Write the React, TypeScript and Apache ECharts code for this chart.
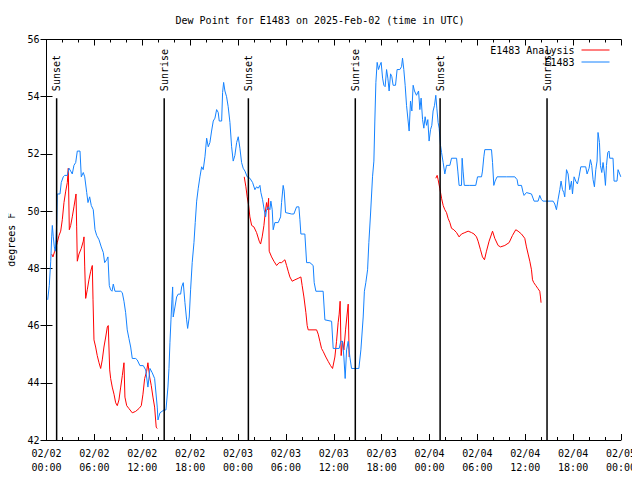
import React, { useEffect, useRef } from "react";
import * as echarts from "echarts";

// hours since 2025-02-02 00:00 UTC, dew point (°F)
const observed: [number, number][] = [
  [0.15,46.9],[0.35,47.4],[0.53,48.25],[0.65,49.1],[0.73,49.5],[0.85,49.1],[0.98,48.75],[1.10,48.6],[1.19,49.0],[1.28,49.6],[1.35,50.6],[1.69,50.6],[1.85,51.0],[2.10,51.2],[2.28,51.25],[2.61,51.25],[2.82,51.5],[3.03,51.4],[3.23,51.3],[3.44,51.6],[3.66,51.7],[3.86,52.1],[4.20,52.1],[4.36,51.2],[4.61,51.35],[4.79,51.2],[5.04,50.65],[5.20,50.3],[5.41,50.5],[5.61,50.2],[5.86,50.05],[6.08,49.35],[6.29,49.15],[6.58,49.0],[6.86,48.75],[7.12,48.55],[7.29,48.2],[7.54,48.3],[7.70,48.4],[7.87,47.4],[8.04,47.25],[8.21,47.2],[8.37,47.45],[8.58,47.2],[9.30,47.2],[9.50,47.15],[9.71,46.85],[9.92,46.45],[10.12,45.85],[10.33,45.55],[10.55,45.25],[10.75,44.85],[11.17,44.85],[11.37,44.8],[11.71,44.6],[12.13,44.6],[12.43,44.45],[12.71,43.85],[12.97,44.5],[13.25,44.35],[13.55,44.15],[13.88,43.15],[13.97,42.7],[14.22,42.95],[14.72,43.05],[14.97,43.05],[15.22,43.85],[15.35,44.5],[15.47,45.4],[15.60,46.2],[15.72,46.9],[15.81,47.35],[15.88,46.3],[16.10,46.65],[16.31,47.0],[16.51,47.1],[16.81,47.1],[16.94,47.35],[17.14,47.5],[17.35,46.8],[17.56,46.2],[17.69,45.9],[17.89,46.3],[18.06,47.25],[18.26,48.2],[18.48,48.9],[18.64,49.6],[18.82,50.35],[19.02,50.8],[19.23,51.2],[19.44,51.55],[19.64,51.45],[19.86,51.9],[20.07,52.55],[20.27,52.25],[20.48,52.4],[20.69,52.8],[20.90,53.15],[21.11,53.25],[21.32,53.55],[21.52,53.45],[21.65,53.15],[21.95,53.15],[22.07,54.15],[22.20,54.5],[22.36,54.2],[22.57,54.0],[22.77,53.65],[22.99,53.1],[23.20,52.25],[23.40,51.75],[23.61,51.95],[23.83,52.4],[24.03,52.6],[24.24,52.2],[24.45,51.7],[24.65,51.5],[24.87,51.4],[25.15,51.2],[25.49,51.15],[25.83,51.0],[26.12,50.75],[26.33,50.85],[26.53,50.8],[26.75,50.9],[26.87,50.65],[27.08,50.4],[27.28,50.05],[27.46,49.8],[27.58,50.05],[27.79,50.15],[28.00,50.05],[28.12,50.35],[28.29,50.05],[28.41,49.35],[28.62,49.6],[29.04,49.6],[29.34,49.8],[29.46,50.3],[29.66,50.9],[29.79,50.7],[29.96,49.95],[30.72,49.9],[31.00,49.9],[31.34,50.15],[31.63,50.15],[31.76,49.7],[31.88,49.2],[32.38,49.2],[32.60,48.2],[33.01,48.2],[33.42,48.1],[33.55,47.5],[33.76,47.2],[34.67,47.2],[34.89,46.2],[35.73,46.15],[35.93,45.2],[36.68,45.2],[36.89,45.45],[37.10,45.45],[37.27,44.9],[37.43,44.15],[37.61,45.15],[37.81,45.45],[38.02,44.9],[38.23,44.5],[39.15,44.5],[39.40,45.15],[39.69,46.3],[39.84,47.2],[40.02,47.5],[40.24,47.95],[40.40,48.9],[40.61,49.9],[40.86,51.2],[41.03,51.75],[41.15,53.15],[41.28,54.5],[41.44,55.2],[41.61,54.95],[41.78,55.1],[41.94,55.2],[42.12,54.65],[42.28,54.4],[42.44,54.35],[42.62,54.95],[42.78,54.65],[42.94,54.2],[43.12,54.8],[43.28,54.7],[43.44,54.4],[43.74,54.4],[43.94,54.95],[44.28,54.95],[44.50,55.05],[44.62,55.35],[44.78,54.95],[44.95,54.4],[45.12,53.7],[45.32,53.15],[45.45,52.8],[45.62,53.85],[45.79,53.5],[45.95,54.4],[46.12,54.2],[46.37,54.05],[46.63,54.2],[46.79,53.55],[46.95,53.95],[47.13,53.2],[47.29,52.9],[47.45,53.3],[47.63,53.0],[47.79,53.2],[47.95,52.45],[48.13,52.85],[48.29,53.0],[48.45,53.5],[48.63,53.7],[48.79,54.05],[48.92,53.6],[49.08,53.1],[49.21,52.9],[49.38,52.3],[49.51,52.05],[49.71,51.7],[49.92,51.3],[50.13,51.6],[50.55,51.6],[50.76,51.85],[51.39,51.85],[51.55,51.4],[51.71,50.9],[52.01,50.9],[52.09,51.85],[52.21,51.4],[52.36,50.9],[53.05,50.9],[53.80,50.9],[54.02,51.2],[54.52,51.2],[54.64,51.4],[54.81,51.9],[54.93,52.15],[55.77,52.15],[55.90,51.7],[56.06,50.9],[56.22,51.05],[56.47,51.2],[57.65,51.2],[58.69,51.2],[58.98,51.1],[59.10,50.9],[59.53,50.9],[59.73,50.65],[59.85,50.55],[60.15,50.65],[60.78,50.6],[61.11,50.35],[61.61,50.35],[61.82,50.55],[62.03,50.4],[62.23,50.35],[63.49,50.35],[63.70,50.25],[63.91,50.05],[64.11,50.4],[64.33,50.75],[64.49,51.05],[64.67,50.75],[64.83,50.65],[64.95,50.5],[65.17,51.45],[65.37,51.3],[65.58,50.75],[65.79,51.05],[65.92,50.6],[66.12,51.2],[66.33,51.05],[66.54,50.95],[66.74,51.2],[66.96,51.55],[67.58,51.55],[67.75,51.3],[68.00,51.5],[68.17,51.8],[68.33,51.6],[68.50,51.1],[68.67,50.85],[68.84,51.45],[69.00,51.75],[69.12,52.75],[69.30,52.4],[69.42,51.6],[69.59,51.35],[69.75,51.7],[69.93,51.3],[70.05,50.9],[70.18,51.6],[70.34,52.05],[70.50,52.1],[70.59,51.85],[71.00,51.85],[71.13,51.05],[71.50,51.05],[71.63,51.45],[71.84,51.3],[71.97,51.2]
];

const analysisNight1: [number, number][] = [
  [0.65,48.5],[0.81,48.4],[1.03,48.6],[1.19,48.75],[1.35,48.9],[1.57,49.15],[1.78,49.3],[1.98,49.7],[2.19,50.3],[2.41,50.7],[2.61,51.0],[2.73,51.5],[2.86,49.35],[3.03,49.5],[3.23,49.8],[3.44,50.15],[3.70,50.6],[3.78,49.45],[3.86,48.25],[4.07,48.5],[4.36,48.7],[4.61,48.95],[4.70,49.1],[4.79,48.05],[4.91,46.95],[5.11,47.25],[5.32,47.6],[5.54,47.9],[5.74,48.1],[5.83,46.9],[5.95,45.5],[6.16,45.25],[6.36,44.95],[6.58,44.7],[6.79,44.5],[6.99,44.8],[7.20,45.25],[7.42,45.6],[7.62,45.95],[7.74,46.0],[7.92,44.45],[8.04,44.15],[8.24,43.85],[8.46,43.6],[8.67,43.3],[8.87,43.2],[9.08,43.4],[9.30,43.85],[9.50,44.25],[9.71,44.7],[9.83,43.5],[10.05,43.2],[10.33,43.1],[10.75,42.95],[11.17,43.0],[11.59,43.1],[11.88,43.2],[12.09,43.6],[12.30,44.15],[12.55,44.4],[12.71,44.7],[12.93,44.2],[13.13,43.9],[13.34,43.5],[13.55,43.15],[13.75,42.45],[13.88,42.4]
];

const analysisNight2: [number, number][] = [
  [24.78,51.2],[24.99,50.85],[25.15,50.5],[25.33,50.2],[25.49,49.8],[25.71,49.5],[25.99,49.45],[26.33,49.25],[26.66,48.95],[26.83,48.85],[27.03,49.1],[27.25,49.5],[27.41,49.95],[27.58,50.3],[27.71,50.05],[27.84,50.45],[27.91,48.6],[28.21,48.4],[28.50,48.25],[28.84,48.1],[29.16,48.2],[29.46,48.2],[29.88,48.3],[30.09,48.1],[30.29,47.9],[30.50,47.7],[30.79,47.55],[31.13,47.6],[31.54,47.65],[31.88,47.7],[32.04,47.4],[32.26,47.0],[32.51,46.45],[32.67,46.0],[32.80,45.85],[33.85,45.85],[34.05,45.7],[34.26,45.45],[34.47,45.2],[34.67,45.1],[35.01,44.9],[35.30,44.75],[35.60,44.6],[35.85,44.5],[36.14,44.9],[36.35,45.45],[36.55,46.1],[36.68,46.4],[36.80,46.85],[36.93,44.95],[37.10,45.45],[37.27,45.15],[37.48,45.85],[37.64,46.3],[37.81,46.75],[37.93,44.9]
];

const analysisNight3: [number, number][] = [
  [48.79,51.15],[48.96,51.25],[49.08,51.1],[49.29,50.8],[49.51,50.45],[49.71,50.2],[49.92,50.05],[50.13,49.95],[50.33,49.75],[50.55,49.6],[50.76,49.4],[51.05,49.35],[51.39,49.25],[51.71,49.1],[52.01,49.2],[52.43,49.25],[52.84,49.3],[53.27,49.25],[53.59,49.2],[53.89,49.1],[54.09,48.95],[54.39,48.65],[54.64,48.4],[54.89,48.3],[55.14,48.6],[55.47,48.95],[55.90,49.3],[56.18,49.05],[56.60,48.8],[56.90,48.75],[57.44,48.8],[57.98,48.9],[58.40,49.15],[58.81,49.35],[59.10,49.3],[59.53,49.2],[59.94,49.05],[60.15,48.75],[60.36,48.5],[60.57,48.25],[60.78,47.95],[60.91,47.6],[61.07,47.5],[61.32,47.4],[61.57,47.3],[61.82,47.2],[61.91,47.0],[61.98,46.8]
];

const sunTimes = [1.27, 14.75, 25.3, 38.7, 49.33, 62.73];
const sunLabels = ["Sunset", "Sunrise", "Sunset", "Sunrise", "Sunset", "Sunrise"];
const SUN_LINE_TOP = 53.95;

const xTickHours = { min: 0, max: 72, step: 6 };
const yTicks = { min: 42, max: 56, step: 2 };

const FONT = '"DejaVu Sans Mono", monospace';

function fmtHour(h: number): string {
  const day = 2 + Math.floor(h / 24);
  const hh = Math.round(h % 24);
  return `02/${String(day).padStart(2, "0")}\n${String(hh).padStart(2, "0")}:00`;
}

export default function App() {
  const ref = useRef<HTMLDivElement>(null);
  useEffect(() => {
    if (!ref.current) return;
    const chart = echarts.init(ref.current, null, { renderer: "svg" });
    const analysis: any[] = [
      ...analysisNight1,
      [19, null],
      ...analysisNight2,
      [43, null],
      ...analysisNight3,
    ];
    const axisLine = { show: true, lineStyle: { color: "#000", width: 1 } };
    const xCommon = {
      type: "value",
      min: xTickHours.min,
      max: xTickHours.max,
      interval: xTickHours.step,
      axisLine,
      axisTick: { show: true, inside: true, length: 6, lineStyle: { color: "#000" } },
      minorTick: { show: true, splitNumber: 3, length: 3, lineStyle: { color: "#000" } },
      splitLine: { show: false },
    };
    const yCommon = {
      type: "value",
      min: yTicks.min,
      max: yTicks.max,
      interval: yTicks.step,
      axisLine,
      axisTick: { show: true, inside: true, length: 6, lineStyle: { color: "#000" } },
      splitLine: { show: false },
    };
    chart.setOption({
      animation: false,
      backgroundColor: "#fff",
      title: {
        text: "Dew Point for E1483 on 2025-Feb-02 (time in UTC)",
        left: "center",
        top: 14,
        padding: 0,
        textStyle: { fontFamily: FONT, fontSize: 10, fontWeight: "normal", color: "#000", lineHeight: 12 },
      },
      legend: {
        data: ["E1483 Analysis", "E1483"],
        orient: "vertical",
        align: "right",
        right: 30,
        top: 44,
        padding: 0,
        itemGap: 0,
        itemWidth: 28,
        itemHeight: 12,
        itemStyle: { opacity: 0 },
        lineStyle: { width: 1 },
        textStyle: { fontFamily: FONT, fontSize: 10, color: "#000", lineHeight: 12, padding: [0, 2, 0, 0] },
      },
      grid: { left: 46.5, right: 19, top: 39.5, bottom: 40, containLabel: false, outerBoundsMode: "none" },
      xAxis: [
        {
          ...xCommon,
          position: "bottom",
          axisLabel: {
            show: true,
            margin: 6,
            fontFamily: FONT,
            fontSize: 10,
            lineHeight: 14,
            color: "#000",
            formatter: (v: number) => fmtHour(v),
          },
        },
        { ...xCommon, position: "top", axisLabel: { show: false } },
      ],
      yAxis: [
        {
          ...yCommon,
          position: "left",
          name: "degrees F",
          nameLocation: "middle",
          nameGap: 30,
          nameTextStyle: { fontFamily: FONT, fontSize: 10, color: "#000" },
          axisLabel: { show: true, margin: 7, fontFamily: FONT, fontSize: 10, color: "#000" },
        },
        { ...yCommon, position: "right", axisLabel: { show: false } },
      ],
      series: [
        {
          name: "E1483 Analysis",
          type: "line",
          data: analysis,
          symbol: "none",
          connectNulls: false,
          lineStyle: { color: "#ff0000", width: 1 },
          itemStyle: { color: "#ff0000" },
          z: 3,
        },
        {
          name: "E1483",
          type: "line",
          data: observed,
          symbol: "none",
          lineStyle: { color: "#1482ff", width: 1 },
          itemStyle: { color: "#1482ff" },
          z: 4,
        },
        {
          name: "sun",
          type: "custom",
          silent: true,
          clip: false,
          z: 5,
          data: sunTimes.map((t, i) => [t, i]),
          encode: { x: 0 },
          renderItem: (_params: any, api: any) => {
            const h = api.value(0);
            const idx = api.value(1);
            const p0 = api.coord([h, yTicks.min]);
            const p1 = api.coord([h, SUN_LINE_TOP]);
            return {
              type: "group",
              children: [
                {
                  type: "line",
                  shape: { x1: p0[0], y1: p0[1], x2: p1[0], y2: p1[1] },
                  style: { stroke: "#000", lineWidth: 1.5 },
                },
                {
                  type: "text",
                  x: p1[0],
                  y: p1[1] - 7,
                  rotation: Math.PI / 2,
                  style: {
                    text: sunLabels[idx],
                    fontFamily: FONT,
                    fontSize: 10,
                    fill: "#000",
                    align: "left",
                    verticalAlign: "middle",
                  },
                },
              ],
            };
          },
        },
      ],
    });
    return () => chart.dispose();
  }, []);
  return <div ref={ref} style={{ width: 640, height: 480, margin: -8 }} />;
}
